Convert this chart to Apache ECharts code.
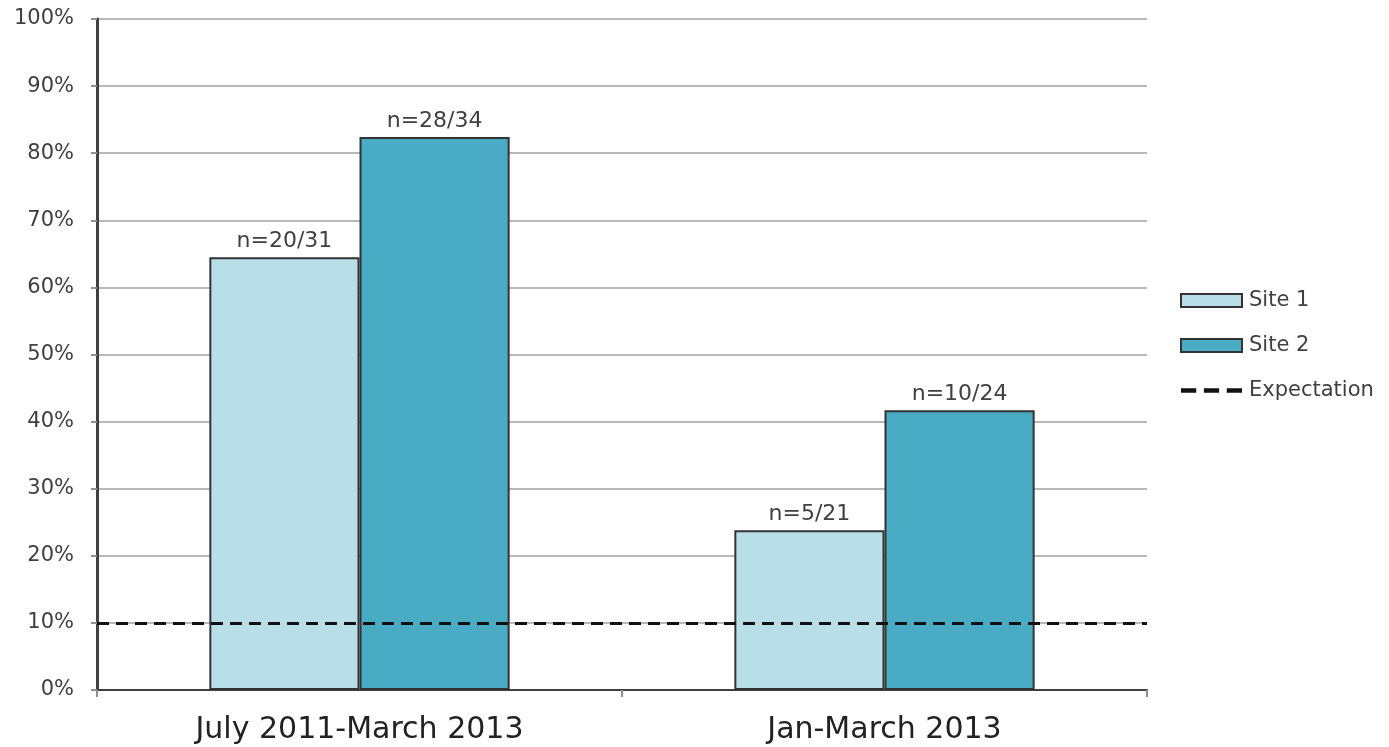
<!DOCTYPE html>
<html>
<head>
<meta charset="utf-8">
<script src="https://cdn.jsdelivr.net/npm/echarts@6/dist/echarts.min.js"></script>
<style>html,body{margin:0;padding:0;background:#fff;}#c{width:1389px;height:747px;}</style>
</head>
<body>
<div id="c"></div>
<script>
const categories = ['July 2011-March 2013', 'Jan-March 2013'];
const site1Values = [64.5, 23.8];
const site2Values = [82.4, 41.7];
const site1Labels = ['n=20/31', 'n=5/21'];
const site2Labels = ['n=28/34', 'n=10/24'];
const expectation = 10;
const yTicks = [0, 10, 20, 30, 40, 50, 60, 70, 80, 90, 100];

const chart = echarts.init(document.getElementById('c'));
const labelStyle = {
  show: true, position: 'top', distance: 5,
  fontFamily: 'DejaVu Sans', fontSize: 22, color: '#404040'
};
chart.setOption({
  animation: false,
  grid: { left: 97, right: 242, top: 19, bottom: 57 },
  legend: {
    orient: 'vertical', left: 1175, top: 285, itemGap: 24,
    itemWidth: 61, itemHeight: 13,
    textStyle: { fontFamily: 'DejaVu Sans', fontSize: 21, color: '#404040', padding: [0, 0, 0, 2] },
    data: [
      { name: 'Site 1', icon: 'rect' },
      { name: 'Site 2', icon: 'rect' },
      { name: 'Expectation', icon: 'path://M0,0h14v4h-14z M21,0h14v4h-14z M42,0h14v4h-14z', itemStyle: { color: '#111', borderWidth: 0 } }
    ]
  },
  xAxis: {
    type: 'category', data: categories,
    axisLine: { lineStyle: { color: '#404040', width: 2 } },
    axisTick: { show: true, length: 7, lineStyle: { color: '#909090', width: 2 } },
    axisLabel: { fontFamily: 'DejaVu Sans', fontSize: 30, color: '#222', margin: 25 }
  },
  yAxis: {
    type: 'value', min: 0, max: 100, interval: 10,
    axisLine: { show: true, lineStyle: { color: '#404040', width: 3 } },
    axisTick: { show: true, length: 6, lineStyle: { color: '#909090', width: 2 } },
    axisLabel: {
      fontFamily: 'DejaVu Sans', fontSize: 21, color: '#404040', margin: 23,
      formatter: v => yTicks.includes(v) ? v + '%' : ''
    },
    splitLine: { lineStyle: { color: '#b8b8b8', width: 2 } }
  },
  series: [
    {
      name: 'Site 1', type: 'bar', data: site1Values,
      barGap: '0%', barCategoryGap: '42.8%',
      itemStyle: { color: '#b8dfe8', borderColor: '#333', borderWidth: 2 },
      label: Object.assign({}, labelStyle, { formatter: p => site1Labels[p.dataIndex] })
    },
    {
      name: 'Site 2', type: 'bar', data: site2Values,
      barGap: '0%', barCategoryGap: '42.8%',
      itemStyle: { color: '#4aabc5', borderColor: '#333', borderWidth: 2 },
      label: Object.assign({}, labelStyle, { formatter: p => site2Labels[p.dataIndex] })
    },
    {
      name: 'Expectation', type: 'line', data: [],
      itemStyle: { color: '#111' },
      lineStyle: { color: '#111', type: [12, 7], width: 3 },
      markLine: {
        silent: true, symbol: ['none', 'none'], label: { show: false },
        lineStyle: { color: '#111', type: [12, 7], width: 3 },
        data: [{ yAxis: expectation }]
      }
    }
  ]
});
</script>
</body>
</html>
